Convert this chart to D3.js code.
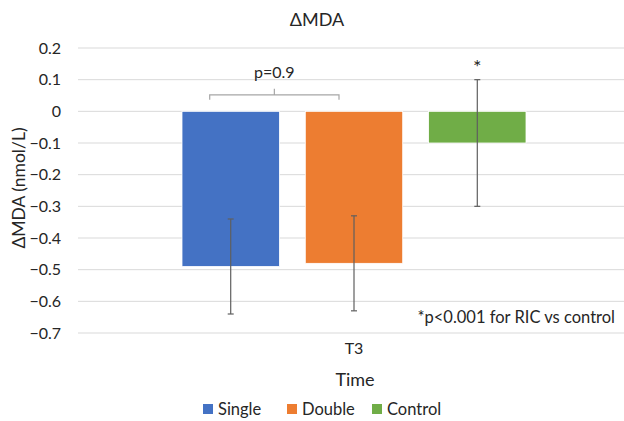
<!DOCTYPE html>
<html>
<head>
<meta charset="utf-8">
<script src="https://cdn.jsdelivr.net/npm/d3@7"></script>
<style>
  body { margin: 0; background: #fff; }
  text { font-family: Lato, "Open Sans", sans-serif; fill: #262626; }
</style>
</head>
<body>
<div id="chart"></div>
<script>
const categories = ["T3"];
const groups = ["Single", "Double", "Control"];
const means = [-0.49, -0.48, -0.10];
const errLow = [-0.64, -0.63, -0.30];
const errHigh = [-0.34, -0.33, 0.10];
const yTicks = [0.2, 0.1, 0, -0.1, -0.2, -0.3, -0.4, -0.5, -0.6, -0.7];
const colors = ["#4472C4", "#ED7D31", "#70AD47"];

const config = {
  width: 624,
  height: 421,
  margin: { top: 48, right: -6, bottom: 88, left: 78 },
};

const width = config.width - config.margin.left - config.margin.right;
const height = config.height - config.margin.top - config.margin.bottom;

const root = d3
  .select("#chart")
  .append("svg")
  .attr("width", config.width)
  .attr("height", config.height);

const svg = root
  .append("g")
  .attr("transform", `translate(${config.margin.left},${config.margin.top})`);

const yScale = d3.scaleLinear().domain([-0.7, 0.2]).range([height, 0]);
const xScale = d3.scaleBand().domain(categories).range([0, width]);
const xSub = d3
  .scaleBand()
  .domain(groups)
  .range([104, xScale.bandwidth() - 104])
  .paddingInner(0.21);

// gridlines
svg
  .append("g")
  .selectAll("line")
  .data(yTicks)
  .join("line")
  .attr("x1", 0)
  .attr("x2", width)
  .attr("y1", (d) => yScale(d))
  .attr("y2", (d) => yScale(d))
  .attr("stroke", "#d9d9d9")
  .attr("stroke-width", 1);

// y axis labels
const yAxis = d3
  .axisLeft(yScale)
  .tickValues(yTicks)
  .tickSize(0)
  .tickPadding(17)
  .tickFormat((d) => (d === 0 ? "0" : d3.format(".1f")(d)));
const yAxisGroup = svg.append("g").call(yAxis);
yAxisGroup.select(".domain").remove();
yAxisGroup.selectAll("text").style("font-size", "16px").attr("fill", "#262626");

// bars
const data = groups.map((g, i) => ({
  group: g,
  mean: means[i],
  lo: errLow[i],
  hi: errHigh[i],
  color: colors[i],
}));

const barG = svg
  .append("g")
  .attr("transform", `translate(${xScale("T3")},0)`);

barG
  .selectAll("rect")
  .data(data)
  .join("rect")
  .attr("x", (d) => xSub(d.group))
  .attr("width", xSub.bandwidth())
  .attr("y", (d) => yScale(Math.max(0, d.mean)))
  .attr("height", (d) => Math.abs(yScale(d.mean) - yScale(0)))
  .attr("fill", (d) => d.color)
  .attr("stroke", "#fff")
  .attr("stroke-width", 0.8);

// error bars
const errG = barG
  .selectAll("g.err")
  .data(data)
  .join("g")
  .attr("class", "err")
  .attr("stroke", "#5f5f5f")
  .attr("stroke-width", 1.2);

errG
  .append("line")
  .attr("x1", (d) => xSub(d.group) + xSub.bandwidth() / 2)
  .attr("x2", (d) => xSub(d.group) + xSub.bandwidth() / 2)
  .attr("y1", (d) => yScale(d.lo))
  .attr("y2", (d) => yScale(d.hi));

["lo", "hi"].forEach((k) => {
  errG
    .append("line")
    .attr("x1", (d) => xSub(d.group) + xSub.bandwidth() / 2 - 3)
    .attr("x2", (d) => xSub(d.group) + xSub.bandwidth() / 2 + 3)
    .attr("y1", (d) => yScale(d[k]))
    .attr("y2", (d) => yScale(d[k]));
});

// p-value bracket between Single and Double
const bx1 = xScale("T3") + xSub("Single") + xSub.bandwidth() / 2 - 21;
const bx2 = xScale("T3") + xSub("Double") + xSub.bandwidth() / 2 - 15;
const by = yScale(0.052);
const bmid = (bx1 + bx2) / 2;
svg
  .append("path")
  .attr(
    "d",
    `M${bx1},${by + 5}V${by}H${bx2}V${by + 5}M${bmid},${by}V${by - 6}`
  )
  .attr("fill", "none")
  .attr("stroke", "#a6a6a6")
  .attr("stroke-width", 1.2);

svg
  .append("text")
  .attr("x", bmid)
  .attr("y", yScale(0.1) - 2)
  .attr("text-anchor", "middle")
  .style("font-size", "16px")
  .text("p=0.9");

svg
  .append("text")
  .attr("x", xScale("T3") + xSub("Control") + xSub.bandwidth() / 2)
  .attr("y", yScale(0.1) - 6)
  .attr("text-anchor", "middle")
  .style("font-size", "20px")
  .text("*");

svg
  .append("text")
  .attr("x", 537)
  .attr("y", yScale(-0.7) - 10)
  .attr("text-anchor", "end")
  .style("font-size", "16.5px")
  .text("*p<0.001 for RIC vs control");

// x axis category label
svg
  .append("text")
  .attr("x", xScale("T3") + xScale.bandwidth() / 2)
  .attr("y", height + 21)
  .attr("text-anchor", "middle")
  .style("font-size", "16px")
  .text("T3");

// axis titles
root
  .append("text")
  .attr("x", 355)
  .attr("y", 386)
  .attr("text-anchor", "middle")
  .style("font-size", "18px")
  .text("Time");

root
  .append("text")
  .attr("transform", "rotate(-90)")
  .attr("x", -188)
  .attr("y", 25)
  .attr("text-anchor", "middle")
  .style("font-size", "17.5px")
  .text("ΔMDA (nmol/L)");

root
  .append("text")
  .attr("x", 317)
  .attr("y", 26)
  .attr("text-anchor", "middle")
  .style("font-size", "18px")
  .text("ΔMDA");

// legend
const legendX = [203, 287, 372];
const legend = root
  .append("g")
  .selectAll("g")
  .data(data)
  .join("g")
  .attr("transform", (d, i) => `translate(${legendX[i]},404)`);

legend
  .append("rect")
  .attr("width", 10)
  .attr("height", 10)
  .attr("fill", (d) => d.color);

legend
  .append("text")
  .attr("x", 15)
  .attr("y", 11)
  .style("font-size", "16.5px")
  .text((d) => d.group);
</script>
</body>
</html>
